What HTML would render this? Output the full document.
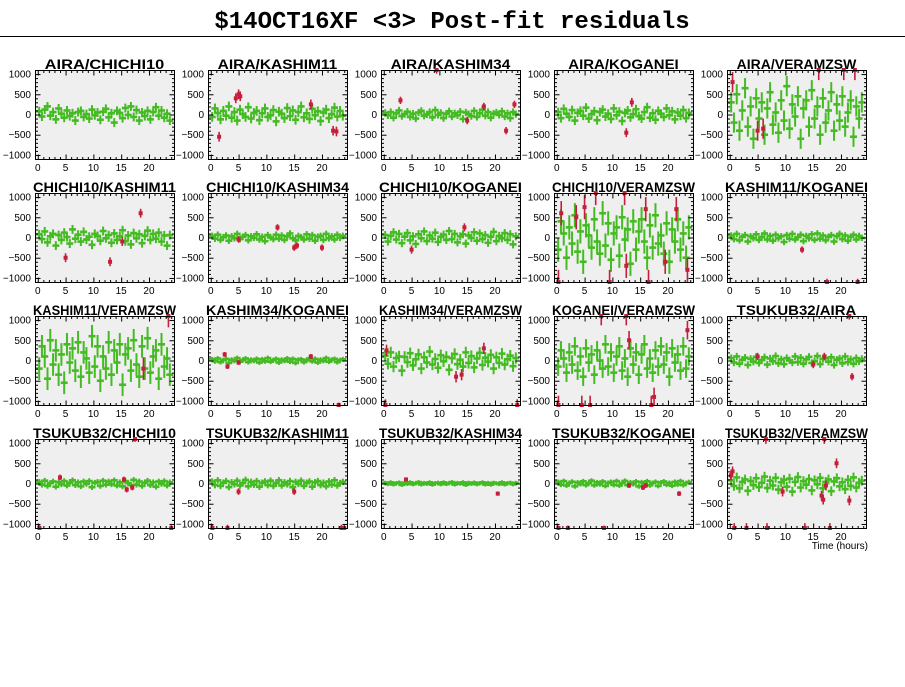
<!DOCTYPE html>
<html><head><meta charset="utf-8"><style>
html,body{margin:0;padding:0;background:#fff;}
body{width:905px;height:687px;overflow:hidden;position:relative;}
svg{position:absolute;left:0;top:0;}
</style></head><body>
<svg id="chart" width="905" height="687" xmlns="http://www.w3.org/2000/svg">
<text x="452" y="28" text-anchor="middle" font-family="Liberation Mono, monospace" font-weight="bold" font-size="24">$14OCT16XF &lt;3&gt; Post-fit residuals</text>
<line x1="0" y1="36.5" x2="905" y2="36.5" stroke="#000" stroke-width="1"/>
</svg>
<script>
const titles=["AIRA/CHICHI10","AIRA/KASHIM11","AIRA/KASHIM34","AIRA/KOGANEI","AIRA/VERAMZSW",
"CHICHI10/KASHIM11","CHICHI10/KASHIM34","CHICHI10/KOGANEI","CHICHI10/VERAMZSW","KASHIM11/KOGANEI",
"KASHIM11/VERAMZSW","KASHIM34/KOGANEI","KASHIM34/VERAMZSW","KOGANEI/VERAMZSW","TSUKUB32/AIRA",
"TSUKUB32/CHICHI10","TSUKUB32/KASHIM11","TSUKUB32/KASHIM34","TSUKUB32/KOGANEI","TSUKUB32/VERAMZSW"];
const xTicks=[0,5,10,15,20];
const yTicks=[1000,500,0,-500,-1000];
const errs=[110,120,90,110,250,110,80,100,300,80,280,60,140,230,90,70,80,50,60,120];
const vals=[
[80,-50,120,200,-30,60,-120,150,20,-80,100,-40,30,-150,60,90,-60,10,-100,120,-20,50,-130,70,140,-70,30,-200,90,40,-90,160,-10,200,-60,110,-150,50,-40,90,-120,60,180,-30,100,-80,20,-150],
[-60,150,40,-120,90,-30,200,-80,60,-150,120,10,-60,180,-100,40,90,-140,30,150,-60,-20,110,-170,70,20,-90,160,-40,100,-130,60,200,-70,30,-110,140,-20,80,-160,50,120,-90,10,170,-50,90,-30],
[40,-20,60,-80,30,100,-40,10,70,-60,20,-100,50,90,-30,0,60,-70,110,-10,40,-90,20,80,-50,30,-20,70,-110,50,10,-40,90,-60,30,120,-30,60,-80,20,50,-10,80,-50,30,-90,60,10],
[60,-90,140,20,-60,110,-150,40,90,-30,170,-100,10,80,-140,60,120,-50,20,-110,150,-20,70,-160,40,100,-70,10,130,-40,-100,60,180,-80,30,-130,90,20,-60,150,-20,80,-120,50,-30,110,-90,40],
[300,-200,500,-400,100,650,-300,200,-600,400,-100,300,-500,150,550,-250,50,-450,350,-150,700,-350,250,-50,450,-600,150,350,-300,600,-100,200,-500,400,-200,100,550,-400,250,-150,450,-300,50,350,-550,200,-100,300],
[80,-40,150,-120,30,90,-200,60,-60,120,10,-150,200,-30,70,-100,140,-50,20,-180,90,40,-80,160,-20,60,-130,100,-60,30,180,-90,50,-170,110,-20,80,-140,40,170,-60,90,-30,120,-100,50,-200,60],
[40,-30,70,-60,10,50,-80,30,-20,90,-40,20,60,-70,30,-10,80,-50,20,-90,60,0,-40,70,-30,50,-60,30,100,-20,-70,40,10,-50,80,-30,60,-80,20,40,-60,90,-20,30,-50,70,-10,40],
[60,-100,40,130,-50,90,-140,20,110,-70,30,-160,80,-20,150,-90,50,-30,120,-110,20,70,-60,160,-40,90,-120,30,80,-150,50,-10,130,-80,100,-40,60,-130,20,140,-90,40,-20,110,-60,80,-170,30],
[-300,400,100,-500,250,-150,550,-350,150,-600,300,50,-250,450,-100,-400,600,-200,350,-550,100,250,-450,500,-50,200,-650,400,-300,150,450,-100,-500,300,-250,550,-150,50,-400,350,-600,200,-100,450,-300,100,-500,250],
[50,-40,90,-70,20,60,-100,30,-20,80,-60,10,100,-50,40,-80,70,-20,30,-110,60,-30,90,-50,10,70,-90,40,-20,80,-60,100,-30,50,-70,20,60,-100,30,90,-40,50,-80,20,70,-50,40,-10],
[-200,350,100,-450,500,-100,250,-350,150,-550,400,-50,300,-250,450,-400,200,50,-300,600,-150,350,-500,100,-200,450,-350,250,-50,400,-600,150,300,-250,500,-100,-400,350,-200,550,-300,100,250,-450,400,-150,50,-350],
[30,-20,50,-40,10,40,-60,20,-10,60,-30,10,50,-40,20,-10,40,-50,30,-20,60,-30,10,40,-50,20,-10,50,-30,40,-60,20,30,-40,10,50,-20,40,-50,20,-10,60,-30,20,40,-40,10,30],
[120,-80,200,-150,60,100,-250,90,-40,180,-120,30,150,-200,80,-50,220,-100,40,-180,130,-20,90,-230,60,160,-90,20,-150,200,-60,110,-170,50,190,-110,70,-30,140,-200,80,-60,170,-100,30,120,-140,60],
[-150,250,50,-300,200,-100,350,-250,100,-400,300,-50,150,-350,250,0,-200,400,-150,200,-300,100,350,-250,50,-400,300,-100,200,-350,150,400,-200,50,-300,250,-150,350,-100,200,-400,300,-50,150,-250,350,-200,100],
[60,-50,100,-80,20,70,-110,40,-30,90,-60,10,80,-100,50,-20,110,-70,30,-90,60,0,-50,100,-40,70,-80,30,90,-60,-20,110,-90,40,60,-30,80,-110,20,50,-70,100,-40,30,-80,60,-20,40],
[40,-30,70,-60,10,50,-80,30,-20,60,-50,20,80,-40,30,-70,50,-10,60,-90,20,40,-60,70,-30,50,-20,80,-50,30,-70,60,10,-40,90,-30,50,-60,20,70,-40,30,-80,50,-10,60,-50,30],
[50,-40,80,-60,20,60,-90,30,-20,70,-50,10,90,-70,40,-30,60,-80,20,50,-40,70,-60,10,80,-50,30,-20,60,-90,40,-10,70,-60,20,50,-80,30,60,-40,20,-70,50,-30,80,-50,10,40],
[20,-15,30,-25,10,25,-35,15,-10,30,-20,5,35,-25,15,-10,30,-30,10,20,-20,30,-15,10,35,-25,15,-5,30,-35,20,-10,25,-20,10,30,-25,15,-30,20,5,-15,30,-25,10,20,-20,15],
[40,-30,60,-50,10,45,-70,25,-15,55,-40,10,70,-45,30,-20,50,-60,15,40,-35,60,-50,10,65,-40,25,-15,50,-70,30,-10,55,-45,15,40,-60,25,50,-30,15,-55,40,-25,60,-40,10,35],
[80,-60,150,-120,40,100,-180,60,-40,130,-90,20,170,-110,70,-50,140,-150,30,90,-80,120,-200,40,160,-100,60,-30,110,-170,80,-20,140,-120,40,100,-190,50,130,-70,30,-140,90,-60,150,-100,20,70]
];
const outliers=[
[],
[[1.5,-550],[4.5,400],[5,500],[5.3,450],[18,250],[22,-400],[22.6,-420]],
[[3,350],[9.5,1100],[15,-150],[18,200],[22,-400],[23.5,250]],
[[12.5,-450],[13.5,300]],
[[0.5,800],[5,-400],[6,-350],[16,1100],[20.5,1100],[22.5,1100]],
[[5,-500],[13,-600],[15.2,-100],[18.5,600]],
[[5,-50],[12,250],[15,-250],[15.5,-200],[20,-250]],
[[5,-300],[14.5,250]],
[[0.3,-1100],[0.8,600],[3.5,500],[5,750],[7,1100],[9.5,-1100],[12.2,1100],[12.5,-700],[16,700],[16.5,-1100],[19.5,-600],[21.5,700],[23.5,-800]],
[[13,-300],[17.5,-1100],[23,-1100]],
[[19,-200],[23.5,1100]],
[[2.5,150],[3,-150],[5,-50],[18,100],[23,-1100]],
[[0.3,-1100],[0.5,250],[13,-400],[14,-350],[18,300],[24,-1100]],
[[0.3,-1100],[4.5,-1100],[6,-1100],[8,1100],[12.5,1100],[13,500],[17,-1100],[17.5,-900],[23.5,750]],
[[5,100],[15,-100],[17,100],[22,-400],[21.5,1100]],
[[0.3,-1100],[4,150],[15.5,100],[16,-150],[17,-100],[17.5,1100],[24,-1100]],
[[0.3,-1100],[3,-1100],[5,-200],[15,-200],[23.5,-1100],[24,-1100]],
[[4,100],[20.5,-250]],
[[0.3,-1100],[2,-1100],[8.5,-1100],[13,-50],[15.5,-100],[16,-50],[22,-250]],
[[0.2,200],[0.5,300],[0.8,-1100],[3,-1100],[6.5,1100],[6.7,-1100],[9.5,-200],[13.5,-1100],[16.5,-300],[16.8,-400],[17.3,-50],[17,1100],[18,-1100],[19.2,500],[21.5,-420]]
];
const NS="http://www.w3.org/2000/svg";
const svg=document.getElementById('chart');
const GREEN="#44bb22",RED="#c41e3a";
function mk(tag,attrs,parent){const e=document.createElementNS(NS,tag);for(const k in attrs)e.setAttribute(k,attrs[k]);parent.appendChild(e);return e;}
const X0=35,Y0=70,W=139,H=89,DX=173,DY=123;
for(let p=0;p<20;p++){
  const col=p%5,row=Math.floor(p/5);
  const L=X0+col*DX,T=Y0+row*DY;
  const xs=t=>L+(t+0.5)/25*W;
  const ys=v=>T+(1100-Math.max(-1100,Math.min(1100,v)))/2200*H;
  const g=mk('g',{},svg);
  
  
  const bg=mk('rect',{x:L,y:T,width:W,height:H,fill:'#efefef'},g);
  
  
  const tt=mk('text',{x:L+W/2,y:T-1,'text-anchor':'middle','font-family':'Liberation Sans, sans-serif','font-weight':'bold','font-size':'13.5','textLength':Math.min(W+4,titles[p].length*9.2),'lengthAdjust':'spacingAndGlyphs'},g);
  tt.textContent=titles[p];
  
  
  const v=vals[p],e=errs[p];
  for(let i=0;i<v.length;i++){
    const t=0.25+i*0.5;
    const x=xs(t),y=ys(v[i]);
    const pt=mk('g',{},g);
    
    
    mk('line',{x1:x,y1:ys(v[i]+e),x2:x,y2:ys(v[i]-e),stroke:GREEN,'stroke-width':2},pt);
    mk('line',{x1:x-3.5,y1:y,x2:x+3.5,y2:y,stroke:GREEN,'stroke-width':2.6},pt);
  }
  for(const o of outliers[p]){
    const x=xs(o[0]),y=ys(o[1]);
    const pt=mk('g',{},g);
    
    
    mk('line',{x1:x,y1:ys(o[1]+e),x2:x,y2:ys(o[1]-e),stroke:RED,'stroke-width':1.6},pt);
    mk('rect',{x:x-2,y:y-2,width:4,height:4,fill:RED},pt);
  }
  const fr=mk('rect',{x:L+0.5,y:T+0.5,width:W,height:H,fill:'none',stroke:'#000','stroke-width':1},g);
  
  
  for(let t=0;t<=24;t++){
    const x=xs(t)+0.5,len=(t%5===0)?5:2.5;
    mk('line',{x1:x,y1:T+H+0.5,x2:x,y2:T+H+0.5-len,stroke:'#000','stroke-width':1},g);
    mk('line',{x1:x,y1:T+0.5,x2:x,y2:T+0.5+len,stroke:'#000','stroke-width':1},g);
  }
  for(let vv=-1000;vv<=1000;vv+=100){
    const y=ys(vv)+0.5,len=(vv%500===0)?5:2.5;
    mk('line',{x1:L+0.5,y1:y,x2:L+0.5+len,y2:y,stroke:'#000','stroke-width':1},g);
    mk('line',{x1:L+W+0.5,y1:y,x2:L+W+0.5-len,y2:y,stroke:'#000','stroke-width':1},g);
  }
  for(const t of xTicks){
    const tx=mk('text',{x:xs(t),y:T+H+12,'text-anchor':'middle','font-family':'Liberation Sans, sans-serif','font-size':'10'},g);
    tx.textContent=t;
    
    
  }
  for(const vv of yTicks){
    const ty=mk('text',{x:L-4,y:ys(vv)+3.5,'text-anchor':'end','font-family':'Liberation Sans, sans-serif','font-size':'10'},g);
    ty.textContent=vv<0?'\u2212'+(-vv):vv;
    
    
  }
}
const xl=mk('text',{x:868,y:549,'text-anchor':'end','font-family':'Liberation Sans, sans-serif','font-size':'10'},svg);
xl.textContent='Time (hours)';


</script>
</body></html>
